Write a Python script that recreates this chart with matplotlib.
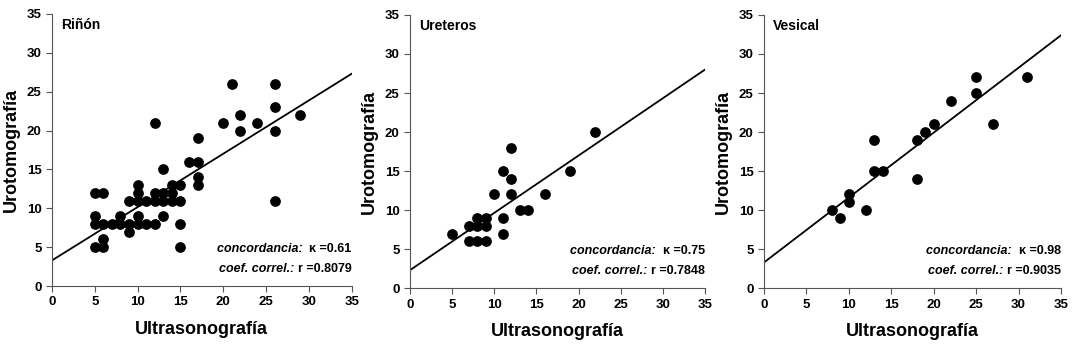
import numpy as np
import matplotlib
matplotlib.use("Agg")
import matplotlib.pyplot as plt

plt.rcParams['font.family'] = ['Liberation Sans', 'DejaVu Sans']
plt.rcParams['font.weight'] = 'bold'

# Riñón
rinon_x = [5, 5, 5, 5, 6, 6, 6, 6, 7, 8, 8, 9, 9, 9, 10, 10, 10, 10, 10, 11, 11,
           12, 12, 12, 12, 13, 13, 13, 13, 14, 14, 14, 15, 15, 15, 15, 16,
           17, 17, 17, 17, 20, 21, 22, 22, 24, 26, 26, 26, 26, 29]
rinon_y = [5, 8, 9, 12, 5, 6, 8, 12, 8, 8, 9, 7, 8, 11, 8, 9, 11, 12, 13, 8, 11,
           8, 11, 12, 21, 9, 11, 12, 15, 11, 12, 13, 5, 8, 11, 13, 16,
           13, 14, 16, 19, 21, 26, 20, 22, 21, 11, 20, 23, 26, 22]

# Ureteros
ureteros_x = [5, 7, 7, 8, 8, 8, 9, 9, 9, 10, 11, 11, 11, 12, 12, 12, 13, 14, 16, 19, 22]
ureteros_y = [7, 6, 8, 6, 8, 9, 6, 8, 9, 12, 7, 9, 15, 12, 14, 18, 10, 10, 12, 15, 20]

# Vesical
vesical_x = [8, 9, 10, 10, 12, 13, 13, 14, 18, 18, 19, 20, 22, 25, 25, 27, 31]
vesical_y = [10, 9, 11, 12, 10, 15, 19, 15, 14, 19, 20, 21, 24, 25, 27, 21, 27]

# regression lines (intercept, value at x=35)
lines = [(3.3, 27.3), (2.3, 28.0), (3.3, 32.4)]
titles = ['Riñón', 'Ureteros', 'Vesical']
kappas = ['0.61', '0.75', '0.98']
rs = ['0.8079', '0.7848', '0.9035']
data = [(rinon_x, rinon_y), (ureteros_x, ureteros_y), (vesical_x, vesical_y)]

fig = plt.figure(figsize=(10.74, 3.48), dpi=100)
positions = [[0.0484, 0.178, 0.279, 0.782],
             [0.3817, 0.172, 0.2747, 0.785],
             [0.7114, 0.172, 0.2765, 0.785]]

for pos, (x, y), line, title, k, r in zip(positions, data, lines, titles, kappas, rs):
    ax = fig.add_axes(pos)
    ax.scatter(x, y, s=45, color='black', zorder=3)
    ax.plot([0, 35], [line[0], line[1]], color='black', lw=1.3)
    ax.set_xlim(0, 35)
    ax.set_ylim(0, 35)
    ax.set_xticks(range(0, 36, 5))
    ax.set_yticks(range(0, 36, 5))
    for s in ['top', 'right']:
        ax.spines[s].set_visible(False)
    for s in ['left', 'bottom']:
        ax.spines[s].set_color('#555555')
    ax.tick_params(direction='out', length=4, color='#555555', labelsize=9.5)
    for lab in ax.get_xticklabels() + ax.get_yticklabels():
        lab.set_fontweight('bold')
    ax.set_xlabel('Ultrasonografía', fontsize=13, fontweight='bold', labelpad=9)
    ax.set_ylabel('Urotomografía', fontsize=13, fontweight='bold', labelpad=5)
    ax.text(0.03, 0.985, title, transform=ax.transAxes, fontsize=10,
            fontweight='bold', va='top', ha='left')
    # annotation
    t1 = ax.text(1.0, 0.115, 'κ =' + k, transform=ax.transAxes, fontsize=9,
                 fontweight='bold', ha='right', va='bottom')
    ax.annotate('concordancia:  ', xy=(0, 0), xycoords=t1, fontsize=9,
                fontstyle='italic', fontweight='bold', ha='right', va='bottom')
    t2 = ax.text(1.0, 0.04, 'r =' + r, transform=ax.transAxes, fontsize=9,
                 fontweight='bold', ha='right', va='bottom')
    ax.annotate('coef. correl.: ', xy=(0, 0), xycoords=t2, fontsize=9,
                fontstyle='italic', fontweight='bold', ha='right', va='bottom')

fig.savefig('out.png', dpi=100)
